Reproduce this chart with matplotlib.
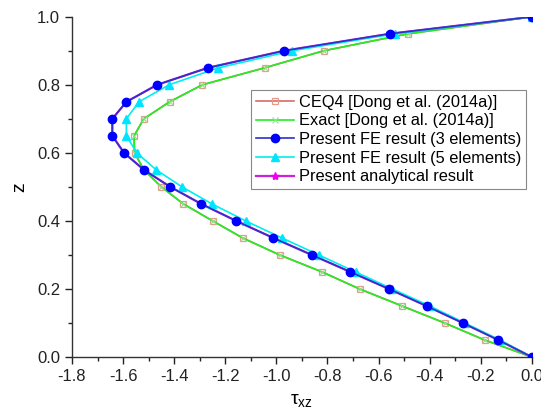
import matplotlib
matplotlib.use('Agg')
import matplotlib.pyplot as plt
from matplotlib.ticker import MultipleLocator

# Shear stress through the thickness

z = [0.0, 0.05, 0.1, 0.15, 0.2, 0.25, 0.3, 0.35, 0.4, 0.45, 0.5,
     0.55, 0.6, 0.65, 0.7, 0.75, 0.8, 0.85, 0.9, 0.95, 1.0]

tau_exact = [0.0, -0.185, -0.341, -0.508, -0.674, -0.821, -0.987, -1.132, -1.249, -1.364, -1.450,
             -1.518, -1.555, -1.557, -1.519, -1.418, -1.290, -1.046, -0.815, -0.485, 0.0]
tau_ceq4 = list(tau_exact)

tau_fe3 = [0.0, -0.131, -0.270, -0.412, -0.559, -0.710, -0.861, -1.012, -1.157, -1.294, -1.415,
           -1.518, -1.596, -1.642, -1.642, -1.587, -1.467, -1.268, -0.971, -0.557, 0.0]

tau_fe5 = [0.0, -0.125, -0.262, -0.400, -0.546, -0.690, -0.834, -0.978, -1.120, -1.252, -1.369,
           -1.470, -1.546, -1.587, -1.587, -1.538, -1.420, -1.227, -0.939, -0.537, 0.0]

tau_analytical = list(tau_fe3)

labels = ['CEQ4 [Dong et al. (2014a)]',
          'Exact [Dong et al. (2014a)]',
          'Present FE result (3 elements)',
          'Present FE result (5 elements)',
          'Present analytical result']

plt.rcParams['font.family'] = ['Liberation Sans', 'DejaVu Sans']

fig = plt.figure(figsize=(5.41, 4.20), dpi=100)
ax = fig.add_axes([0.133, 0.15, 0.85, 0.81])

l1, = ax.plot(tau_ceq4, z, color='#d96a6a', lw=1.2, marker='s', ms=5,
              mfc='none', mec='#e89a8a', mew=0.9, label=labels[0], zorder=2)
l2, = ax.plot(tau_exact, z, color='#22ee22', lw=1.2, marker='x', ms=4.5,
              mec='#99dd99', mew=0.8, label=labels[1], zorder=3)
l5, = ax.plot(tau_analytical, z, color='#cc22dd', lw=1.6, marker='*', ms=6,
              mfc='#ee00ee', mec='#ee00ee', label=labels[4], zorder=4)
l4, = ax.plot(tau_fe5, z, color='#00eeee', lw=1.2, marker='^', ms=6,
              mfc='#00e5ff', mec='#00e5ff', label=labels[3], zorder=5)
l3, = ax.plot(tau_fe3, z, color='#3030c8', lw=1.2, marker='o', ms=6,
              mfc='#0000ff', mec='#0000ff', label=labels[2], zorder=6)

ax.set_xlim(-1.8, 0.0)
ax.set_ylim(0.0, 1.0)
ax.xaxis.set_major_locator(MultipleLocator(0.2))
ax.xaxis.set_minor_locator(MultipleLocator(0.1))
ax.yaxis.set_major_locator(MultipleLocator(0.2))
ax.yaxis.set_minor_locator(MultipleLocator(0.1))
ax.xaxis.set_major_formatter(plt.FuncFormatter(lambda v, p: '%.1f' % v))
ax.yaxis.set_major_formatter(plt.FuncFormatter(lambda v, p: '%.1f' % v))

ax.spines['top'].set_visible(False)
ax.spines['right'].set_visible(False)
for s in ['left', 'bottom']:
    ax.spines[s].set_linewidth(1.0)
    ax.spines[s].set_color('#333333')
ax.tick_params(which='major', direction='out', length=5, width=1, labelsize=12, colors='#222222')
ax.tick_params(which='minor', direction='out', length=3, width=1, colors='#222222')

ax.set_xlabel(r'$\mathregular{\tau_{xz}}$', fontsize=14, labelpad=6)
ax.set_ylabel('z', fontsize=14, labelpad=6)

leg = ax.legend(handles=[l1, l2, l3, l4, l5], loc='upper left',
                bbox_to_anchor=(0.39, 0.785), fontsize=11.8, frameon=True,
                fancybox=False, edgecolor='#888888', framealpha=1,
                handlelength=2.3, handletextpad=0.3, borderpad=0.3,
                labelspacing=0.22, borderaxespad=0.0)
leg.get_frame().set_linewidth(0.8)

fig.savefig('out.png', dpi=100)
